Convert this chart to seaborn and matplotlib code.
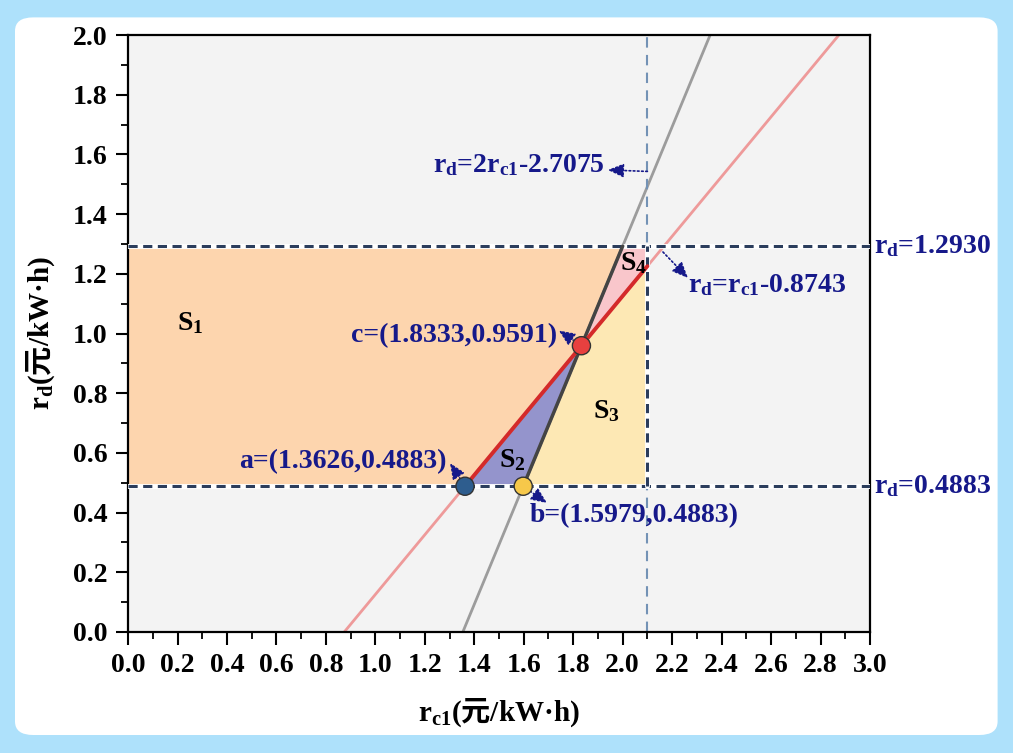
import numpy as np
import seaborn as sns
import matplotlib.pyplot as plt
from matplotlib.patches import Polygon, FancyBboxPatch
from matplotlib.ticker import MultipleLocator

# values
point_names = ['a', 'b', 'c']
point_rc1 = [1.3626, 1.5979, 1.8333]
point_rd = [0.4883, 0.4883, 0.9591]
point_colors = ['#2e5d8e', '#f6c84a', '#e8403f']

rd_low = 0.4883
rd_high = 1.2930
rc1_cap = 2.1

# rd = slope * rc1 + intercept
gray_slope, gray_icpt = 2.0, -2.7075
red_slope, red_icpt = 1.0, -0.8743

x_ticks = np.round(np.arange(0, 3.01, 0.2), 1)
y_ticks = np.round(np.arange(0, 2.01, 0.2), 1)

navy = '#16198a'


def rc1_at(slope, icpt, y):
    return (y - icpt) / slope


def rd_at(slope, icpt, x):
    return slope * x + icpt


sns.set_theme(style='ticks')
plt.rcParams['font.family'] = ['Liberation Serif', 'Noto Sans CJK SC']
plt.rcParams['font.weight'] = 'bold'
plt.rcParams['mathtext.fontset'] = 'custom'
plt.rcParams['mathtext.bf'] = 'Liberation Serif:bold'
plt.rcParams['mathtext.rm'] = 'Noto Sans CJK SC'
plt.rcParams['mathtext.it'] = 'Liberation Serif:italic:bold'

fig = plt.figure(figsize=(10.13, 7.53), dpi=100)
fig.patch.set_facecolor('#aee1fb')
fig.add_artist(FancyBboxPatch((0.0148, 0.0239), 0.970, 0.953,
                              boxstyle='round,pad=0,rounding_size=0.018',
                              transform=fig.transFigure, facecolor='white',
                              edgecolor='none', zorder=0))
ax = fig.add_axes([0.1264, 0.1607, 0.7324, 0.7928])
ax.set_facecolor('#f3f3f3')

xa, xb, xc = point_rc1
yc = point_rd[2]
x_gray_top = rc1_at(gray_slope, gray_icpt, rd_high)
y_red_cap = rd_at(red_slope, red_icpt, rc1_cap)

regions = {
    'S1': ([(0, rd_low), (xa, rd_low), (xc, yc), (x_gray_top, rd_high), (0, rd_high)], '#fdd5ae'),
    'S2': ([(xa, rd_low), (xb, rd_low), (xc, yc)], '#9494cc'),
    'S3': ([(xb, rd_low), (rc1_cap, rd_low), (rc1_cap, y_red_cap), (xc, yc)], '#fde8b4'),
    'S4': ([(xc, yc), (x_gray_top, rd_high), (rc1_cap, rd_high), (rc1_cap, y_red_cap)], '#f9c6cb'),
}
for name, (pts, col) in regions.items():
    ax.add_patch(Polygon(pts, closed=True, facecolor=col, edgecolor='none', zorder=1))

# full lines
sns.lineplot(x=[rc1_at(gray_slope, gray_icpt, 0), rc1_at(gray_slope, gray_icpt, 2)], y=[0, 2],
             color='#9c9c9c', lw=2, ax=ax, zorder=2)
sns.lineplot(x=[rc1_at(red_slope, red_icpt, 0), rc1_at(red_slope, red_icpt, 2)], y=[0, 2],
             color='#ee9a9a', lw=2, ax=ax, zorder=2)

# dashed boundaries
ax.axvline(rc1_cap, color='#7392b5', lw=1.5, ls=(0, (5, 3.5)), zorder=2)
for yv in [rd_low, rd_high]:
    ax.axhline(yv, color='white', lw=3.5, zorder=3)
    ax.axhline(yv, color='#2b3d5c', lw=2.2, ls=(0, (3, 1.8)), zorder=3)
ax.plot([rc1_cap, rc1_cap], [rd_low, rd_high], color='white', lw=3.5, zorder=3)
ax.plot([rc1_cap, rc1_cap], [rd_low, rd_high], color='#2b3d5c', lw=2.2, ls=(0, (3, 1.8)), zorder=3)

# highlighted segments
sns.lineplot(x=[xb, x_gray_top], y=[point_rd[1], rd_high], color='#444444', lw=2.5, ax=ax, zorder=4)
sns.lineplot(x=[xa, rc1_cap], y=[point_rd[0], y_red_cap], color='#d42a2a', lw=2.8, ax=ax, zorder=4)

sns.scatterplot(x=point_rc1, y=point_rd, hue=point_names,
                palette=dict(zip(point_names, point_colors)), s=170,
                edgecolor='#333333', linewidth=1, legend=False, ax=ax, zorder=6)

# labels and arrows
arrow = dict(arrowstyle='-|>,head_length=0.8,head_width=0.35', color=navy, lw=1.2,
             linestyle=(0, (1, 1.5)), shrinkA=0, shrinkB=0)
tfont = dict(color=navy, fontsize=20, fontweight='bold', va='baseline')

ax.text(1.929, 1.541, r'r$_\mathbf{d}$=2r$_\mathbf{c1}$-2.7075', ha='right', **tfont)
ax.annotate('', xy=(1.94, 1.548), xytext=(2.1, 1.543), arrowprops=arrow)

ax.text(2.264, 1.139, r'r$_\mathbf{d}$=r$_\mathbf{c1}$-0.8743', ha='left', **tfont)
ax.annotate('', xy=(2.264, 1.186), xytext=(2.163, 1.273), arrowprops=arrow)

ax.text(3.015, 1.27, r'r$_\mathbf{d}$=1.2930', ha='left', clip_on=False, **tfont)
ax.text(3.015, 0.466, r'r$_\mathbf{d}$=0.4883', ha='left', clip_on=False, **tfont)

ax.text(1.735, 0.972, 'c=(1.8333,0.9591)', ha='right', **tfont)
ax.annotate('', xy=(1.742, 1.01), xytext=(xc, yc), arrowprops=arrow)
ax.text(1.29, 0.549, 'a=(1.3626,0.4883)', ha='right', **tfont)
ax.annotate('', xy=(1.302, 0.566), xytext=(xa, point_rd[0]), arrowprops=arrow)
ax.text(1.626, 0.3685, 'b=(1.5979,0.4883)', ha='left', **tfont)
ax.annotate('', xy=(1.694, 0.432), xytext=(xb, point_rd[1]), arrowprops=arrow)

s_pos = {'S1': (0.198, 1.012), 'S2': (1.50, 0.553), 'S3': (1.88, 0.717), 'S4': (1.99, 1.213)}
for name, (sx, sy) in s_pos.items():
    ax.text(sx, sy, 'S$_\\mathbf{' + name[1] + '}$', color='black', fontsize=20,
            fontweight='bold', va='baseline', ha='left', zorder=7)

ax.set_xlim(0, 3)
ax.set_ylim(0, 2)
ax.set_xticks(x_ticks)
ax.set_yticks(y_ticks)
ax.set_xticklabels([f'{v:.1f}' for v in x_ticks])
ax.set_yticklabels([f'{v:.1f}' for v in y_ticks])
ax.xaxis.set_minor_locator(MultipleLocator(0.1))
ax.yaxis.set_minor_locator(MultipleLocator(0.1))
ax.tick_params(which='major', direction='out', length=9, width=1.5, pad=6,
               labelsize=20, color='black', labelcolor='black')
ax.tick_params(which='minor', direction='out', length=5, width=1.3, color='black')
for sp in ax.spines.values():
    sp.set_linewidth(1.6)
    sp.set_color('black')

ax.set_xlabel(r'r$_\mathbf{c1}$($\mathrm{元}$/kW·h)', fontsize=21, fontweight='bold',
              labelpad=13, color='black')
ax.set_ylabel(r'r$_\mathbf{d}$($\mathrm{元}$/kW·h)', fontsize=21, fontweight='bold',
              labelpad=11, color='black')

fig.savefig('out.png', dpi=100, facecolor=fig.get_facecolor())
